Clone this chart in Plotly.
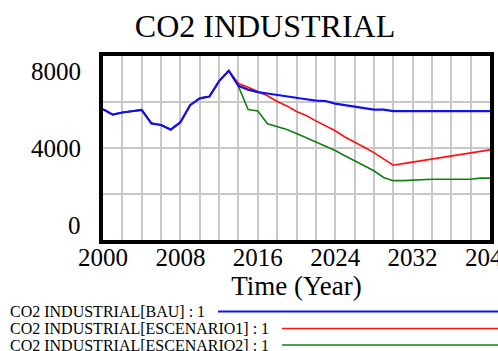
import plotly.graph_objects as go

# Simulation time axis (years)
years = list(range(2000, 2041))

# CO2 INDUSTRIAL by scenario
bau = [5690, 5450, 5545, 5600, 5655, 5070, 5000, 4800, 5120, 5860,
       6160, 6240, 6910, 7360, 6700, 6540, 6430, 6370, 6300, 6240,
       6175, 6120, 6060, 6045, 5930, 5855, 5790, 5730, 5670, 5670,
       5600, 5600, 5600, 5600, 5600, 5600, 5600, 5600, 5600, 5600, 5600]
escenario1 = [5690, 5450, 5545, 5600, 5655, 5070, 5000, 4800, 5120, 5860,
              6160, 6240, 6910, 7360, 6800, 6640, 6460, 6270, 6020, 5830,
              5590, 5410, 5180, 4950, 4750, 4480, 4270, 4030, 3800, 3530,
              3250, 3320, 3390, 3450, 3510, 3575, 3640, 3710, 3780, 3850, 3920]
escenario2 = [5690, 5450, 5545, 5600, 5655, 5070, 5000, 4800, 5120, 5860,
              6160, 6240, 6910, 7360, 6680, 5670, 5610, 5050, 4940, 4800,
              4630, 4450, 4260, 4070, 3890, 3660, 3440, 3220, 3010, 2720,
              2580, 2580, 2610, 2640, 2640, 2640, 2640, 2640, 2640, 2690, 2690]

y_labels = [0, 4000, 8000]
x_ticks = [2000, 2008, 2016, 2024, 2032, 2040]

series = [
    ("CO2 INDUSTRIAL[BAU] : 1", bau, "#1010f0", 2.2),
    ("CO2 INDUSTRIAL[ESCENARIO1] : 1", escenario1, "#ff1010", 1.6),
    ("CO2 INDUSTRIAL[ESCENARIO2] : 1", escenario2, "#108010", 1.6),
]

W, H = 498, 351
L, R, T, B = 103, 8, 56, 111
PW, PH = W - L - R, H - T - B

def px(x):
    return (x - L) / PW

def py(y):
    return (H - B - y) / PH

fig = go.Figure()
# draw later scenarios first so BAU stays on top where the runs coincide
for name, vals, color, width in reversed(series):
    fig.add_trace(go.Scatter(x=years, y=vals, mode="lines", name=name,
                             line=dict(color=color, width=width),
                             showlegend=False))

serif = "Liberation Serif, Times New Roman, serif"

fig.update_layout(
    width=W, height=H,
    margin=dict(l=L, r=R, t=T, b=B, autoexpand=False),
    paper_bgcolor="white", plot_bgcolor="white",
    font=dict(family=serif, color="black"),
    title=dict(text="CO2 INDUSTRIAL", x=265 / W, xref="container", xanchor="center",
               y=1 - 25.5 / H, yref="container", yanchor="middle",
               font=dict(family=serif, size=32, color="black")),
    xaxis=dict(range=[2000, 2040], tickvals=x_ticks, ticks="", automargin=False,
               tickfont=dict(size=25), ticklabelstandoff=-8, ticklabeloverflow="allow",
               showgrid=True, gridcolor="#c8c8c8", gridwidth=1.5,
               minor=dict(dtick=2, showgrid=True, gridcolor="#c8c8c8", gridwidth=1.5),
               showline=True, linecolor="black", linewidth=3.5, mirror=True,
               zeroline=False,
               title=dict(text="Time (Year)", font=dict(size=27), standoff=0)),
    yaxis=dict(range=[0, 8000], dtick=2000, showticklabels=False, ticks="",
               automargin=False,
               showgrid=True, gridcolor="#c8c8c8", gridwidth=1.5,
               showline=True, linecolor="black", linewidth=3.5, mirror=True,
               zeroline=False),
)

# y tick labels, outer ones pulled inside the frame
shifts = {0: 15, 4000: 0, 8000: -15}
for v in y_labels:
    fig.add_annotation(x=0, xref="paper", xanchor="right", xshift=-20,
                       y=v, yref="y", yanchor="middle", yshift=shifts[v],
                       text=str(v), showarrow=False, font=dict(size=25))

# legend: label followed by a line sample
legend_rows = [(311.5, 218), (328.5, 282), (345, 282)]
for (name, vals, color, width), (ly, x0) in zip(series, legend_rows):
    fig.add_annotation(x=px(8), xref="paper", xanchor="left",
                       y=py(ly), yref="paper", yanchor="middle",
                       text=name, showarrow=False, font=dict(size=16))
    fig.add_shape(type="line", xref="paper", yref="paper",
                  x0=px(x0), x1=px(W + 5), y0=py(ly), y1=py(ly),
                  line=dict(color=color, width=width * 0.8))

fig.write_html("out.html")
